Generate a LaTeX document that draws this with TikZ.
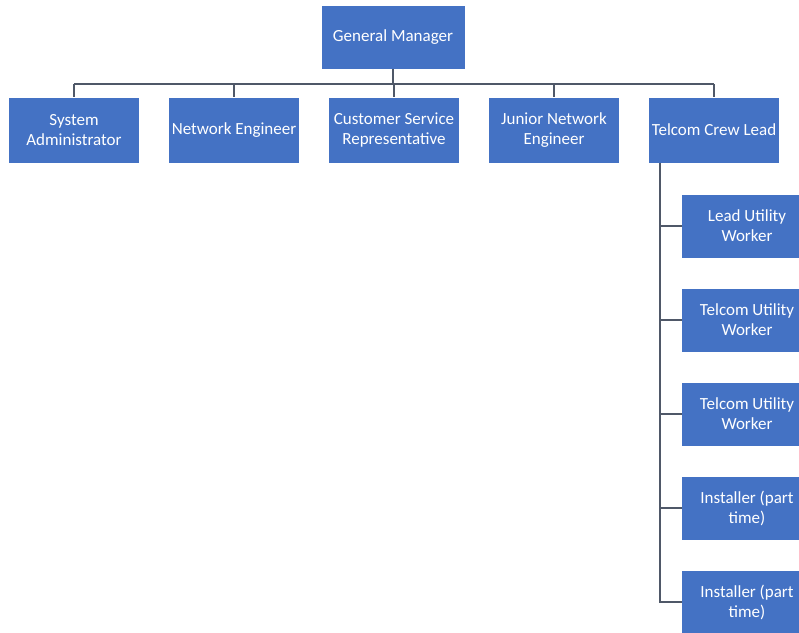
\documentclass[tikz,border=0pt]{standalone}
\usepackage{fontspec}
\setmainfont{Carlito}
\definecolor{boxblue}{HTML}{4472C4}
\definecolor{linegray}{HTML}{4F5868}
\tikzset{
  post/.style={fill=boxblue, text=white, minimum width=130pt, minimum height=65pt,
    inner sep=1pt, align=center, font=\fontsize{17}{20}\selectfont},
  link/.style={draw=linegray, line width=1.4pt}
}

\begin{document}
\begin{tikzpicture}[x=1pt,y=-1pt]
\useasboundingbox[fill=white] (0,0) rectangle (799,632);
\def\xs{160} %shift between posts in the top row
\def\ys{94} %shift between workers
\node[post, minimum width=143pt, minimum height=63pt] (gm) at (393,37) {General Manager};
\foreach \i/\n/\t in {0/sa/{System\\Administrator}, 1/ne/{Network Engineer},
  2/csr/{Customer Service\\Representative}, 3/jne/{Junior Network\\Engineer},
  4/tcl/{Telcom Crew Lead}}
{
\node[post] (\n) at (74+\i*\xs, 130) {\t};
}
% workers under the crew lead
\foreach \i/\t in {1/{Lead Utility\\Worker}, 2/{Telcom Utility\\Worker},
  3/{Telcom Utility\\Worker}, 4/{Installer (part\\time)}, 5/{Installer (part\\time)}}
{
\node[post, minimum height=63pt] (w\i) at (747, 132+\i*\ys) {\t};
}
\coordinate (bus) at (0,84);
\draw[link] (gm.south) -- (gm.south |- bus);
\draw[link] (sa.north |- bus) -- (tcl.north |- bus);
\foreach \n in {sa,ne,csr,jne,tcl}
  \draw[link] (\n.north |- bus) -- (\n.north);
\coordinate (trunk) at ([xshift=11pt]tcl.south west);
\draw[link] (trunk) |- (w5.west);
\foreach \i in {1,...,4}
  \draw[link] (trunk |- w\i.west) -- (w\i.west);
\end{tikzpicture}
\end{document}
